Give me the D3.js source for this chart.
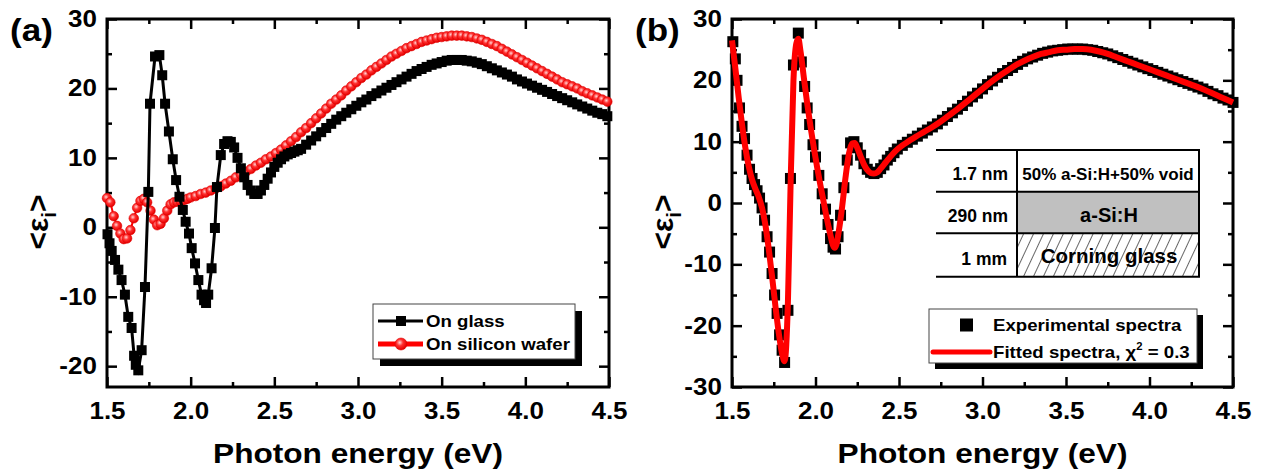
<!DOCTYPE html>
<html><head><meta charset="utf-8">
<script src="https://cdn.jsdelivr.net/npm/d3@7"></script>
<style>
body{margin:0;background:#fff}
text{font-family:"Liberation Sans",Arial,sans-serif;font-weight:bold;fill:#000}
</style>
</head><body>
<svg id="c" width="1261" height="471"></svg>
<script>
// ---------------- data ----------------
const xMajor = [1.5, 2.0, 2.5, 3.0, 3.5, 4.0, 4.5];
const xMinor = [1.75, 2.25, 2.75, 3.25, 3.75, 4.25];
const yMajorA = [-20, -10, 0, 10, 20, 30];
const yMinorA = [-15, -5, 5, 15, 25];
const yMajorB = [-30, -20, -10, 0, 10, 20, 30];
const yMinorB = [-25, -15, -5, 5, 15, 25];

// (a) On glass
const glassE = [1.503,1.515,1.528,1.548,1.568,1.587,1.607,1.627,1.647,1.662,1.672,1.687,1.707,1.727,1.747,1.757,1.787,1.813,1.830,1.847,1.870,1.893,1.913,1.933,1.953,1.970,1.990,2.006,2.026,2.046,2.065,2.080,2.092,2.105,2.125,2.145,2.157,2.180,2.200,2.220,2.240,2.260,2.280,2.300,2.320,2.340,2.360,2.380,2.400,2.420,2.440,2.460,2.480,2.500,2.520,2.540,2.560,2.580,2.600,2.620,2.640,
2.66,2.69,2.72,2.75,2.78,2.81,2.84,2.87,2.90,2.93,2.96,2.99,3.02,3.05,3.08,3.11,3.14,3.17,3.20,3.23,3.26,3.29,3.32,3.35,3.38,3.41,3.44,3.47,3.50,3.53,3.56,3.59,3.62,3.65,3.68,3.71,3.74,3.77,3.80,3.83,3.86,3.89,3.92,3.95,3.98,4.01,4.04,4.07,4.10,4.13,4.16,4.19,4.22,4.25,4.28,4.31,4.34,4.37,4.40,4.43,4.46,4.49];
const glassV = [-1.0,-2.3,-3.4,-4.7,-6.1,-7.6,-9.7,-12.9,-14.5,-18.5,-19.8,-20.6,-17.7,-8.6,5.1,17.8,24.6,24.8,21.9,17.8,13.8,9.8,6.8,4.4,2.5,0.8,-0.9,-3.0,-5.2,-7.6,-9.7,-10.5,-10.9,-9.7,-5.9,-0.1,5.8,10.4,12.0,12.4,12.3,11.5,10.0,8.5,7.2,6.1,5.3,4.8,4.8,5.3,6.1,7.0,7.9,8.7,9.3,9.8,10.2,10.5,10.7,10.9,11.1,
11.3,11.9,12.5,13.1,13.7,14.3,14.9,15.5,16.0,16.5,17.0,17.5,18.0,18.4,18.9,19.3,19.7,20.1,20.5,20.9,21.3,21.7,22.1,22.5,22.8,23.1,23.4,23.6,23.8,24.0,24.1,24.1,24.1,24.0,23.9,23.7,23.5,23.2,22.9,22.6,22.3,22.0,21.7,21.3,21.0,20.7,20.4,20.1,19.8,19.5,19.2,18.9,18.6,18.3,18.0,17.7,17.4,17.1,16.8,16.5,16.3,16.0];

// (a) On silicon wafer
const siE = [1.50,1.52,1.54,1.56,1.58,1.60,1.62,1.64,1.66,1.68,1.70,1.72,1.74,1.76,1.78,1.80,1.82,1.84,1.86,1.88,1.90,1.92,1.94,1.96,1.98,2.00,
2.03,2.06,2.09,2.12,2.15,2.18,2.21,2.24,2.27,2.30,2.33,2.36,2.39,2.42,2.45,2.48,2.51,2.54,2.57,2.60,2.63,2.66,2.69,2.72,2.75,2.78,2.81,2.84,2.87,2.90,2.93,2.96,2.99,3.02,3.05,3.08,3.11,3.14,3.17,3.20,3.23,3.26,3.29,3.32,3.35,3.38,3.41,3.44,3.47,3.50,3.53,3.56,3.59,3.62,3.65,3.68,3.71,3.74,3.77,3.80,3.83,3.86,3.89,3.92,3.95,3.98,4.01,4.04,4.07,4.10,4.13,4.16,4.19,4.22,4.25,4.28,4.31,4.34,4.37,4.40,4.43,4.46,4.49];
const siV = [4.2,3.6,1.6,0.2,-0.9,-1.7,-1.6,-0.4,1.3,2.8,3.8,4.1,3.6,2.4,1.1,0.3,0.5,1.3,2.4,3.3,3.6,3.7,3.8,3.9,4.1,4.3,
4.5,4.8,5.0,5.3,5.6,5.9,6.3,6.7,7.2,7.6,8.0,8.4,8.9,9.3,9.8,10.2,10.7,11.2,11.8,12.4,13.0,13.7,14.3,15.0,15.7,16.4,17.1,17.8,18.4,19.0,19.7,20.3,20.9,21.5,22.0,22.6,23.1,23.6,24.1,24.6,25.0,25.4,25.8,26.1,26.4,26.7,26.9,27.1,27.3,27.4,27.5,27.6,27.6,27.6,27.5,27.4,27.2,27.0,26.7,26.4,26.1,25.7,25.3,24.9,24.5,24.1,23.7,23.3,22.9,22.5,22.1,21.7,21.3,20.9,20.6,20.3,20.0,19.6,19.3,19.0,18.7,18.4,18.1];

// (b) Experimental spectra
const expE = [1.505,1.52,1.53,1.545,1.56,1.575,1.59,1.605,1.62,1.635,1.65,1.665,1.68,1.695,1.71,1.725,1.74,1.755,1.77,1.785,1.80,1.815,1.835,1.85,1.868,1.897,1.915,1.935,1.95,1.965,1.985,2.00,2.02,2.04,2.06,2.075,2.09,2.105,2.12,2.135,2.15,2.17,2.19,2.21,2.23,2.25,2.27,2.29,2.31,2.33,2.35,2.37,2.39,2.41,2.43,2.45,2.47,2.49,
2.52,2.55,2.58,2.61,2.64,2.67,2.70,2.73,2.76,2.79,2.82,2.85,2.88,2.91,2.94,2.97,3.00,3.03,3.06,3.09,3.12,3.15,3.18,3.21,3.24,3.27,3.30,3.33,3.36,3.39,3.42,3.45,3.48,3.51,3.54,3.57,3.60,3.63,3.66,3.69,3.72,3.75,3.78,3.81,3.84,3.87,3.90,3.93,3.96,3.99,4.02,4.05,4.08,4.11,4.14,4.17,4.20,4.23,4.26,4.29,4.32,4.35,4.38,4.41,4.44,4.47,4.50];
const expV = [26.3,23.5,20.0,15.5,12.5,10.5,7.8,5.5,4.0,3.0,2.0,0.8,-0.8,-2.8,-5.5,-8.0,-11.5,-15.0,-18.0,-21.5,-24.0,-26.0,-17.5,4.0,22.5,27.7,23.0,19.0,15.5,12.8,9.5,7.5,4.5,1.5,-1.0,-3.5,-5.8,-7.2,-7.5,-5.5,-2.0,2.5,7.0,9.8,10.0,9.0,7.8,6.4,5.5,5.0,4.8,5.0,5.6,6.2,7.0,7.6,8.2,8.8,
9.4,9.9,10.4,10.9,11.4,11.9,12.4,12.9,13.5,14.1,14.7,15.3,15.9,16.6,17.3,17.9,18.6,19.3,19.9,20.5,21.1,21.6,22.1,22.6,23.1,23.5,23.8,24.1,24.4,24.6,24.8,24.9,25.0,25.1,25.1,25.1,25.1,25.0,24.9,24.7,24.5,24.3,24.0,23.7,23.4,23.1,22.8,22.5,22.2,21.9,21.6,21.3,21.0,20.7,20.4,20.1,19.8,19.5,19.2,18.9,18.6,18.2,17.8,17.5,17.1,16.8,16.4];

// (b) Fitted spectra
const fitE = [1.50,1.52,1.54,1.56,1.58,1.60,1.62,1.64,1.66,1.68,1.70,1.72,1.74,1.76,1.78,1.80,1.815,1.835,1.85,1.868,1.885,1.897,1.91,1.93,1.95,1.97,1.99,2.01,2.03,2.05,2.07,2.09,2.105,2.115,2.125,2.14,2.16,2.18,2.20,2.22,2.235,2.25,2.27,2.29,2.31,2.33,2.35,2.37,2.39,2.42,2.45,2.48,2.52,2.56,2.60,2.65,2.70,2.75,2.80,2.85,2.90,2.95,3.00,3.05,3.10,3.15,3.20,3.25,3.30,3.35,3.40,3.45,3.50,3.55,3.60,3.65,3.70,3.75,3.80,3.85,3.90,3.95,4.00,4.05,4.10,4.15,4.20,4.25,4.30,4.35,4.40,4.45,4.50];
const fitV = [26.5,22.0,17.2,12.8,9.0,6.0,3.8,2.3,1.0,-0.8,-3.6,-7.5,-12.0,-16.8,-21.2,-24.6,-25.8,-16.0,2.0,20.0,26.0,26.8,24.8,20.5,16.3,12.5,9.0,5.8,2.8,0.0,-2.8,-5.3,-6.9,-7.3,-6.8,-4.5,-0.5,4.2,8.0,9.7,9.8,9.0,7.6,6.3,5.4,4.9,4.8,5.0,5.6,6.6,7.6,8.5,9.4,10.1,10.8,11.6,12.4,13.3,14.3,15.3,16.4,17.5,18.6,19.7,20.7,21.6,22.5,23.2,23.8,24.3,24.6,24.9,25.0,25.1,25.1,25.0,24.7,24.3,23.8,23.3,22.8,22.3,21.8,21.3,20.8,20.3,19.8,19.3,18.8,18.2,17.6,17.0,16.4];

const legendA = ["On glass", "On silicon wafer"];
const tableThick = ["1.7 nm", "290 nm", "1 mm"];
const tableLayer = ["50% a-Si:H+50% void", "a-Si:H", "Corning glass"];

// ---------------- drawing ----------------
const svg = d3.select("#c");
const SX = 1.13;
const defs = svg.append("defs");
const rg = defs.append("radialGradient").attr("id","rg").attr("cx","0.4").attr("cy","0.38").attr("r","0.6");
rg.append("stop").attr("offset","0").attr("stop-color","#ffd6d6");
rg.append("stop").attr("offset","0.45").attr("stop-color","#ff3030");
rg.append("stop").attr("offset","1").attr("stop-color","#e40000");
const hp = defs.append("pattern").attr("id","hatch").attr("patternUnits","userSpaceOnUse")
  .attr("width",9).attr("height",9).attr("patternTransform","rotate(25)");
hp.append("line").attr("x1",0).attr("y1",0).attr("x2",0).attr("y2",9).attr("stroke","#000").attr("stroke-width",1.2);

function T(parent, x, y, s, size, anchor, sx) {
  return parent.append("text")
    .attr("transform", `translate(${x},${y}) scale(${sx===undefined?SX:sx},1)`)
    .attr("font-size", size).attr("text-anchor", anchor || "start").text(s);
}

function panel(cfg) {
  const g = svg.append("g");
  const x = d3.scaleLinear().domain([1.5, 4.5]).range([cfg.L, cfg.R]);
  const y = d3.scaleLinear().domain(cfg.yDom).range([cfg.B, cfg.T]);
  const fx = d3.format(".1f");
  const fy = d => String(d);
  const defsAx = [
    [d3.axisBottom(x).tickValues(xMajor).tickFormat(fx).tickSizeInner(-10).tickSizeOuter(0).tickPadding(16), 0, cfg.B],
    [d3.axisBottom(x).tickValues(xMinor).tickFormat("").tickSizeInner(-5).tickSizeOuter(0), 0, cfg.B],
    [d3.axisTop(x).tickValues(xMajor).tickFormat("").tickSizeInner(-10).tickSizeOuter(0), 0, cfg.T],
    [d3.axisTop(x).tickValues(xMinor).tickFormat("").tickSizeInner(-5).tickSizeOuter(0), 0, cfg.T],
    [d3.axisLeft(y).tickValues(cfg.yMaj).tickFormat(fy).tickSizeInner(-10).tickSizeOuter(0).tickPadding(9), cfg.L, 0],
    [d3.axisLeft(y).tickValues(cfg.yMin).tickFormat("").tickSizeInner(-5).tickSizeOuter(0), cfg.L, 0],
    [d3.axisRight(y).tickValues(cfg.yMaj).tickFormat("").tickSizeInner(-10).tickSizeOuter(0), cfg.R, 0],
    [d3.axisRight(y).tickValues(cfg.yMin).tickFormat("").tickSizeInner(-5).tickSizeOuter(0), cfg.R, 0]
  ];
  defsAx.forEach(([ax, tx, ty]) => {
    const a = g.append("g").attr("transform", `translate(${tx},${ty})`).call(ax);
    a.attr("font-family", null).attr("font-size", 23);
    a.select(".domain").remove();
    a.selectAll("line").attr("stroke-width", 2.5);
    a.selectAll("text").attr("transform", `scale(${SX},1)`);
  });
  g.append("rect").attr("x", cfg.L).attr("y", cfg.T).attr("width", cfg.R - cfg.L).attr("height", cfg.B - cfg.T)
    .attr("fill", "none").attr("stroke", "#000").attr("stroke-width", 3);
  // titles
  T(g, (cfg.L + cfg.R) / 2, 463, "Photon energy (eV)", 28, "middle");
  const yl = g.append("text").attr("transform", `translate(${cfg.L - 59},222) rotate(-90)`)
    .attr("font-size", 30).attr("text-anchor", "middle");
  yl.append("tspan").text("<ε");
  yl.append("tspan").attr("font-size", 20).attr("dy", 8).text("i");
  yl.append("tspan").attr("dy", -8).text(">");
  T(g, cfg.L - 97, 41, cfg.tag, 31, "start");
  return {g, x, y};
}

// ---------- panel (a) ----------
const A = panel({L:107, R:609, T:19, B:387, yDom:[-23,30], yMaj:yMajorA, yMin:yMinorA, tag:"(a)"});
{
  const {g, x, y} = A;
  const siData = siE.map((e, i) => [e, siV[i]]);
  const glData = glassE.map((e, i) => [e, glassV[i]]);
  const line = d3.line().x(d => x(d[0])).y(d => y(d[1]));
  g.append("path").datum(siData).attr("d", line).attr("fill","none").attr("stroke","#ff0000").attr("stroke-width",2);
  g.append("g").selectAll("circle").data(siData).join("circle")
    .attr("cx", d => x(d[0])).attr("cy", d => y(d[1])).attr("r", 4.8)
    .attr("fill","url(#rg)").attr("stroke","#e00000").attr("stroke-width",0.6);
  g.append("path").datum(glData).attr("d", line).attr("fill","none").attr("stroke","#000").attr("stroke-width",3);
  g.append("g").selectAll("rect").data(glData).join("rect")
    .attr("x", d => x(d[0]) - 5).attr("y", d => y(d[1]) - 5).attr("width", 10).attr("height", 10).attr("fill","#000");
  // legend
  const lg = g.append("g");
  lg.append("rect").attr("x",380).attr("y",311).attr("width",202).attr("height",55).attr("fill","#000");
  lg.append("rect").attr("x",373).attr("y",304).attr("width",202).attr("height",55).attr("fill","#fff").attr("stroke","#444").attr("stroke-width",1);
  lg.append("line").attr("x1",378).attr("x2",423).attr("y1",321).attr("y2",321).attr("stroke","#000").attr("stroke-width",3);
  lg.append("rect").attr("x",396).attr("y",316).attr("width",10).attr("height",10).attr("fill","#000");
  lg.append("line").attr("x1",378).attr("x2",423).attr("y1",344).attr("y2",344).attr("stroke","#ff0000").attr("stroke-width",5);
  lg.append("circle").attr("cx",401).attr("cy",344).attr("r",6).attr("fill","url(#rg)").attr("stroke","#e00000").attr("stroke-width",0.6);
  T(lg, 426, 327, legendA[0], 16.5, "start");
  T(lg, 426, 350, legendA[1], 16.5, "start");
}

// ---------- panel (b) ----------
const B = panel({L:732, R:1233, T:19, B:387, yDom:[-30,30], yMaj:yMajorB, yMin:yMinorB, tag:"(b)"});
{
  const {g, x, y} = B;
  const exData = expE.map((e, i) => [e, expV[i]]);
  const ftData = fitE.map((e, i) => [e, fitV[i]]);
  g.append("g").selectAll("rect").data(exData).join("rect")
    .attr("x", d => x(d[0]) - 5.5).attr("y", d => y(d[1]) - 5.5).attr("width", 11).attr("height", 11).attr("fill","#000");
  const line = d3.line().x(d => x(d[0])).y(d => y(d[1])).curve(d3.curveMonotoneX);
  g.append("path").datum(ftData).attr("d", line).attr("fill","none").attr("stroke","#ff0000")
    .attr("stroke-width",6).attr("stroke-linejoin","round");

  // inset table
  const t = g.append("g");
  const rows = [150, 191.7, 233.3, 276.7];
  t.append("rect").attr("x",1017).attr("y",rows[1]).attr("width",182).attr("height",rows[2]-rows[1]).attr("fill","#c0c0c0");
  t.append("rect").attr("x",1017).attr("y",rows[2]).attr("width",182).attr("height",rows[3]-rows[2]).attr("fill","url(#hatch)");
  rows.forEach(r => t.append("line").attr("x1",936).attr("x2",1200).attr("y1",r).attr("y2",r).attr("stroke","#000").attr("stroke-width",2));
  [1017, 1199].forEach(c => t.append("line").attr("x1",c).attr("x2",c).attr("y1",rows[0]).attr("y2",rows[3]).attr("stroke","#000").attr("stroke-width",2));
  T(t, 1008, 180, tableThick[0], 17.5, "end", 1);
  T(t, 1008, 222, tableThick[1], 17.5, "end", 1);
  T(t, 1007, 265, tableThick[2], 17.5, "end", 1);
  T(t, 1108, 180, tableLayer[0], 17, "middle", 1);
  T(t, 1109, 222, tableLayer[1], 20, "middle", 1);
  T(t, 1109, 263, tableLayer[2], 20.5, "middle", 1);

  // legend
  const lg = g.append("g");
  lg.append("rect").attr("x",935).attr("y",315).attr("width",268).attr("height",54).attr("fill","#000");
  lg.append("rect").attr("x",929).attr("y",309).attr("width",268).attr("height",54).attr("fill","#fff").attr("stroke","#444").attr("stroke-width",1);
  lg.append("rect").attr("x",960).attr("y",318.5).attr("width",13).attr("height",13).attr("fill","#000");
  lg.append("line").attr("x1",933).attr("x2",990).attr("y1",352).attr("y2",352).attr("stroke","#ff0000").attr("stroke-width",5).attr("stroke-linecap","round");
  T(lg, 993, 331, "Experimental spectra", 16.5, "start");
  const ft = lg.append("text").attr("transform", `translate(993,358) scale(${SX},1)`).attr("font-size",16.5);
  ft.append("tspan").text("Fitted spectra, χ");
  ft.append("tspan").attr("font-size",10).attr("dy",-8).text("2");
  ft.append("tspan").attr("dy",8).text(" = 0.3");
}
</script>
</body></html>
